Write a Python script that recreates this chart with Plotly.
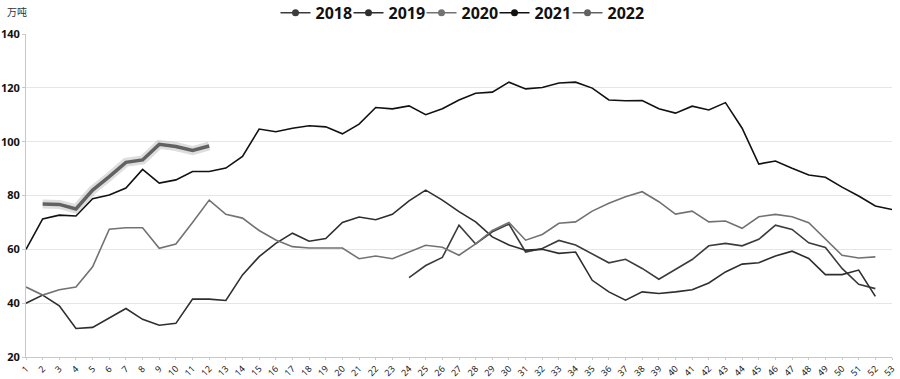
import plotly.graph_objects as go

weeks = list(range(1, 54))
week_labels = [str(w) for w in weeks]

s2018_weeks = list(range(24, 53))
s2018 = [49.5, 54, 57, 69, 62, 66.5, 69.4, 59, 60.3, 63.3, 61.6, 58.2, 55, 56.3, 52.9,
         48.9, 52.5, 56.2, 61.3, 62.2, 61.3, 63.7, 69, 67.4, 62.4, 60.7, 52.9, 47, 45.4]

s2019_weeks = list(range(1, 53))
s2019 = [40, 43, 39, 30.6, 31, 34.5, 38, 34, 31.8, 32.5, 41.5, 41.5, 41, 50.5, 57.3, 62.2,
         66, 63, 64, 70, 72, 71, 73, 78, 82, 78.3, 74, 70.2, 64.6, 61.6, 59.7, 60, 58.5, 59,
         48.5, 44.2, 41.1, 44.2, 43.6, 44.2, 45, 47.5, 51.6, 54.5, 55, 57.5, 59.3, 56.6,
         50.6, 50.6, 52.3, 42.5]

s2020_weeks = list(range(1, 53))
s2020 = [46, 43, 45, 46, 53.5, 67.5, 68, 68, 60.4, 62, 70, 78.3, 73, 71.6, 67, 63.5, 61,
         60.5, 60.5, 60.5, 56.5, 57.5, 56.5, 59, 61.5, 60.8, 57.8, 62, 67, 70, 63.4, 65.5,
         69.7, 70.2, 74.2, 77.1, 79.5, 81.4, 77.7, 73.1, 74.2, 70.2, 70.5, 67.8, 72.1, 73,
         72.1, 69.9, 64, 57.8, 56.8, 57.2]

s2021_weeks = list(range(1, 54))
s2021 = [60, 71.3, 72.7, 72.4, 78.8, 80.2, 82.8, 89.7, 84.6, 85.8, 88.9, 88.9, 90.2, 94.5,
         104.7, 103.7, 105, 105.9, 105.5, 102.9, 106.5, 112.7, 112.2, 113.3, 110, 112.2,
         115.5, 118, 118.4, 122.1, 119.6, 120.1, 121.8, 122.1, 119.9, 115.5, 115.2, 115.3,
         112.2, 110.6, 113.2, 111.8, 114.5, 105, 91.7, 92.8, 90.1, 87.6, 86.8, 83.1, 79.8,
         76.1, 74.8]

s2022_weeks = list(range(2, 13))
s2022 = [76.8, 76.7, 75, 82, 87, 92.3, 93.2, 99, 98.2, 96.7, 98.4]

y_ticks = [20, 40, 60, 80, 100, 120, 140]

series = [
    ("2018", s2018_weeks, s2018, "#3c3c3c", 1.6),
    ("2019", s2019_weeks, s2019, "#2e2e2e", 1.6),
    ("2020", s2020_weeks, s2020, "#727272", 1.6),
    ("2021", s2021_weeks, s2021, "#111111", 1.6),
    ("2022", s2022_weeks, s2022, "#626262", 3.5),
]

fig = go.Figure()

for name, xs, ys, color, width in series:
    if name == "2022":
        fig.add_trace(go.Scatter(
            x=xs, y=ys, mode="lines", showlegend=False, hoverinfo="skip",
            line=dict(color="rgba(160,160,160,0.35)", width=9),
        ))
    fig.add_trace(go.Scatter(
        x=xs, y=ys, name=name, mode="lines", showlegend=False,
        line=dict(color=color, width=width),
    ))

# legend entries (line with a circle marker, as in the reference)
for name, xs, ys, color, width in series:
    fig.add_trace(go.Scatter(
        x=[None], y=[None], name=name, mode="lines+markers",
        line=dict(color=color, width=1.5),
        marker=dict(color=color, size=7, symbol="circle"),
    ))
# invisible spacer entry so the last legend label is not clipped
fig.add_trace(go.Scatter(
    x=[None], y=[None], name=" ", mode="lines",
    line=dict(color="rgba(0,0,0,0)", width=0),
))

fig.update_layout(
    width=900, height=379,
    margin=dict(l=26, r=8, t=34, b=22, autoexpand=False),
    paper_bgcolor="white", plot_bgcolor="white",
    font=dict(family="Noto Sans, Liberation Sans, sans-serif", color="#111"),
    showlegend=True,
    legend=dict(
        orientation="h", x=0.541, xanchor="center", y=1.118, yanchor="top",
        yref="paper", bgcolor="rgba(0,0,0,0)",
        font=dict(size=16, color="#111", family="Noto Sans, sans-serif", weight="bold"),
        itemwidth=30, tracegroupgap=0, itemclick=False,
        entrywidth=28, entrywidthmode="pixels",
    ),
    xaxis=dict(
        range=[1, 53], tickmode="array", tickvals=weeks, ticktext=week_labels,
        tickangle=-45, tickfont=dict(size=9, color="#222"),
        showgrid=False, showline=True, linecolor="#c8c8c8", linewidth=1,
        ticks="outside", ticklen=2, tickcolor="#c8c8c8", zeroline=False, automargin=False,
    ),
    yaxis=dict(
        range=[20, 140], tickmode="array", tickvals=y_ticks,
        tickfont=dict(size=11, color="#111", weight="bold"),
        showgrid=True, gridcolor="#e6e6e6", gridwidth=1,
        showline=True, linecolor="#c8c8c8", linewidth=1,
        ticks="outside", ticklen=3, tickcolor="#c8c8c8", zeroline=False, automargin=False,
    ),
    annotations=[dict(
        text="万吨", x=0, y=1, xref="paper", yref="paper", showarrow=False,
        xanchor="center", yanchor="bottom", xshift=-9, yshift=13,
        font=dict(size=10, color="#333", family="Noto Sans CJK SC"),
    )],
)

fig.write_html("out.html", config={"displayModeBar": False},
               post_script="document.body.style.margin='0';")
